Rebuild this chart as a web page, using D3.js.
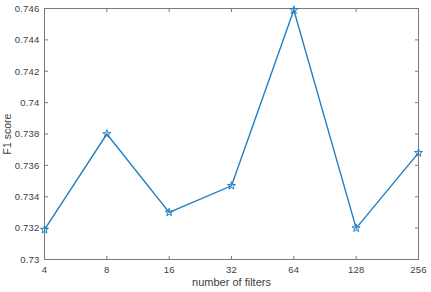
<!DOCTYPE html>
<html><head><meta charset="utf-8">
<script src="https://cdn.jsdelivr.net/npm/d3@7"></script>
<style>body{margin:0;background:#fff}svg{display:block}</style>
</head><body>
<svg id="c" width="431" height="292"></svg>
<script>
const categories = ["4","8","16","32","64","128","256"];
const f1Scores = [0.7319, 0.7380, 0.7330, 0.7347, 0.7459, 0.7320, 0.7368];
const yTicks = [0.73, 0.732, 0.734, 0.736, 0.738, 0.74, 0.742, 0.744, 0.746];
const xTitle = "number of filters";
const yTitle = "F1 score";

const svg = d3.select("#c");
const m = {l:44.5, r:418.5, t:8.5, b:259.5};
const x = d3.scalePoint().domain(categories).range([m.l, m.r]);
const y = d3.scaleLinear().domain([0.73, 0.746]).range([m.b, m.t]);
const axisColor = "#7a7a7a", textColor = "#404040", lineColor = "#1f7fc0";
const font = "Liberation Sans, Arial, sans-serif";

svg.append("rect").attr("x", m.l).attr("y", m.t).attr("width", m.r-m.l).attr("height", m.b-m.t)
  .attr("fill","none").attr("stroke", axisColor).attr("stroke-width",1);

const tl = 3.5;
categories.forEach(c => {
  const xx = x(c);
  svg.append("line").attr("x1",xx).attr("x2",xx).attr("y1",m.b).attr("y2",m.b-tl).attr("stroke",axisColor);
  svg.append("line").attr("x1",xx).attr("x2",xx).attr("y1",m.t).attr("y2",m.t+tl).attr("stroke",axisColor);
  svg.append("text").attr("x",xx).attr("y",m.b+13).attr("text-anchor","middle")
    .attr("font-family",font).attr("font-size",9.5).attr("letter-spacing",0.2).attr("fill",textColor).text(c);
});
yTicks.forEach(v => {
  const yy = y(v);
  svg.append("line").attr("x1",m.l).attr("x2",m.l+tl).attr("y1",yy).attr("y2",yy).attr("stroke",axisColor);
  svg.append("line").attr("x1",m.r).attr("x2",m.r-tl).attr("y1",yy).attr("y2",yy).attr("stroke",axisColor);
  svg.append("text").attr("x",m.l-5).attr("y",yy+3.3).attr("text-anchor","end")
    .attr("font-family",font).attr("font-size",9.5).attr("letter-spacing",0.2).attr("fill",textColor).text(d3.format("")(v));
});

svg.append("text").attr("x",(m.l+m.r)/2).attr("y",285.5).attr("text-anchor","middle")
  .attr("font-family",font).attr("font-size",11).attr("fill",textColor).text(xTitle);
svg.append("text").attr("transform",`translate(11,${(m.t+m.b)/2}) rotate(-90)`).attr("text-anchor","middle")
  .attr("font-family",font).attr("font-size",10.5).attr("fill",textColor).text(yTitle);

const pts = categories.map((c,i)=>[x(c), y(f1Scores[i])]);
svg.append("path").attr("d", d3.line()(pts)).attr("fill","none").attr("stroke",lineColor).attr("stroke-width",1.4);
const star = d3.symbol().type(d3.symbolStar).size(20);
pts.forEach(p => svg.append("path").attr("d", star()).attr("transform",`translate(${p[0]},${p[1]})`)
  .attr("fill","none").attr("stroke",lineColor).attr("stroke-width",1));
</script>
</body></html>
